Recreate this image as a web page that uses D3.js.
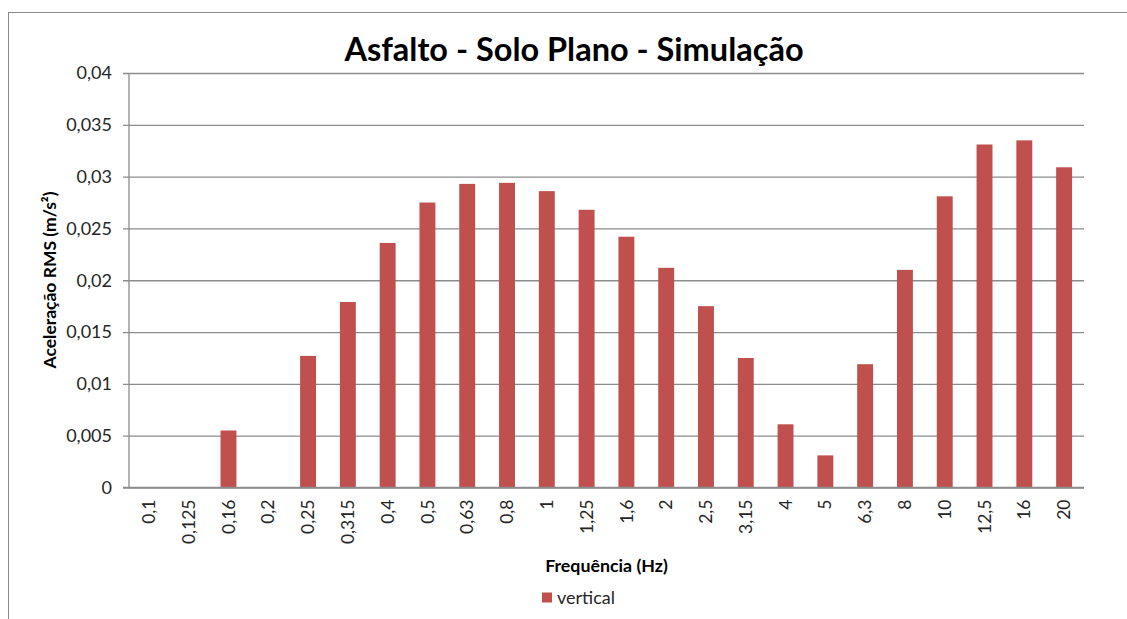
<!DOCTYPE html>
<html>
<head>
<meta charset="utf-8">
<script src="https://cdn.jsdelivr.net/npm/d3@7"></script>
<style>
  html, body { margin: 0; padding: 0; background: #fff; }
  svg { display: block; }
  text { font-family: Lato, "Open Sans", sans-serif; }
</style>
</head>
<body>
<svg id="chart" width="1127" height="619"></svg>
<script>
const categories = ["0,1","0,125","0,16","0,2","0,25","0,315","0,4","0,5","0,63","0,8","1","1,25","1,6","2","2,5","3,15","4","5","6,3","8","10","12,5","16","20"];
const vertical = [0, 0, 0.0055, 0, 0.0127, 0.0179, 0.0236, 0.0275, 0.0293, 0.0294, 0.0286, 0.0268, 0.0242, 0.0212, 0.0175, 0.0125, 0.0061, 0.0031, 0.0119, 0.0210, 0.0281, 0.0331, 0.0335, 0.0309];
const yTicks = [0, 0.005, 0.01, 0.015, 0.02, 0.025, 0.03, 0.035, 0.04];
const titleText = "Asfalto - Solo Plano - Simulação";
const yTitle = "Aceleração RMS (m/s²)";
const xTitle = "Frequência (Hz)";
const seriesName = "vertical";

(function () {
const svg = d3.select("#chart");
const W = 1127, H = 619;
const pL = 129, pR = 1084, pT = 73, pB = 487.5;
const barColor = "#C0504D";
const gridColor = "#8C8C8C";

// outer frame
svg.append("rect").attr("x", 8.5).attr("y", 12.5).attr("width", W + 10).attr("height", H + 10)
  .attr("fill", "none").attr("stroke", "#8a8a8a").attr("stroke-width", 1);

const x = d3.scaleBand().domain(categories).range([pL, pR]).paddingInner(0.6).paddingOuter(0.3);
const y = d3.scaleLinear().domain([0, 0.04]).range([pB, pT]);

const fmt = v => v === 0 ? "0" : String(+v.toFixed(3)).replace(".", ",");

// gridlines + y axis
const yAxis = d3.axisLeft(y).tickValues(yTicks).tickFormat(fmt).tickSize(-(pR - pL)).tickPadding(17);
const gy = svg.append("g").attr("transform", `translate(${pL},0)`).call(yAxis);
gy.select(".domain").remove();
gy.selectAll(".tick line").attr("stroke", gridColor).attr("stroke-width", 1.3).attr("x1", -6);
gy.selectAll(".tick text").attr("fill", "#262626").attr("font-size", 18);

// y axis line
svg.append("line").attr("x1", pL).attr("x2", pL).attr("y1", pT).attr("y2", pB)
  .attr("stroke", gridColor).attr("stroke-width", 1.3);

// bars
svg.append("g").selectAll("rect").data(vertical).join("rect")
  .attr("x", (d, i) => x(categories[i]))
  .attr("width", x.bandwidth())
  .attr("y", d => y(d))
  .attr("height", d => y(0) - y(d))
  .attr("fill", barColor);

// x axis
const xAxis = d3.axisBottom(x).tickSize(0).tickPadding(0);
const gx = svg.append("g").attr("transform", `translate(0,${pB})`).call(xAxis);
gx.select(".domain").attr("stroke", gridColor).attr("stroke-width", 1.3).attr("d", `M${pL - 6},0H${pR}`);
gx.selectAll(".tick text")
  .attr("fill", "#262626").attr("font-size", 17.5)
  .attr("transform", "rotate(-90)")
  .attr("text-anchor", "end")
  .attr("x", -12).attr("y", 0).attr("dy", "0.35em");

// title
svg.append("text").attr("x", 574).attr("y", 61).attr("text-anchor", "middle")
  .attr("font-size", 32.5).attr("font-weight", "bold").attr("fill", "#000").text(titleText);

// y title
svg.append("text").attr("transform", "translate(56,280) rotate(-90)").attr("text-anchor", "middle")
  .attr("font-size", 17.5).attr("font-weight", "bold").attr("fill", "#000").text(yTitle);

// x title
svg.append("text").attr("x", 606.5).attr("y", 572).attr("text-anchor", "middle")
  .attr("font-size", 17.8).attr("font-weight", "bold").attr("fill", "#000").text(xTitle);

// legend
svg.append("rect").attr("x", 542).attr("y", 592.5).attr("width", 10).attr("height", 10).attr("fill", barColor);
svg.append("text").attr("x", 557).attr("y", 604).attr("font-size", 18).attr("fill", "#262626").text(seriesName);
})();
</script>
</body>
</html>
